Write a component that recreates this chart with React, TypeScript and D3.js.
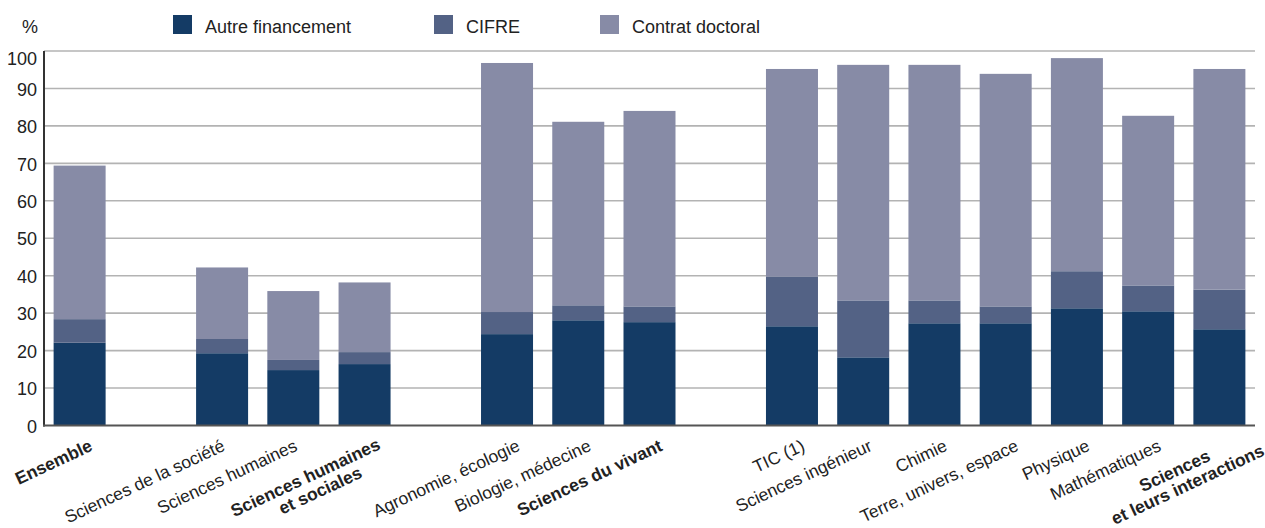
import React from "react";
import * as d3 from "d3";

// ---- data ----
const slots = [
  "Ensemble", "gap1",
  "Sciences de la société", "Sciences humaines", "Sciences humaines et sociales", "gap2",
  "Agronomie, écologie", "Biologie, médecine", "Sciences du vivant", "gap3",
  "TIC (1)", "Sciences ingénieur", "Chimie", "Terre, univers, espace", "Physique", "Mathématiques", "Sciences et leurs interactions",
];
const categories = [
  "Ensemble", "Sciences de la société", "Sciences humaines", "Sciences humaines et sociales",
  "Agronomie, écologie", "Biologie, médecine", "Sciences du vivant",
  "TIC (1)", "Sciences ingénieur", "Chimie", "Terre, univers, espace", "Physique", "Mathématiques", "Sciences et leurs interactions",
];
const autreFinancement = [22.1, 19.3, 14.8, 16.4, 24.4, 28.1, 27.6, 26.5, 18.2, 27.3, 27.3, 31.3, 30.5, 25.7];
const cifre = [6.3, 3.8, 2.7, 3.2, 5.9, 4.0, 4.2, 13.3, 15.2, 6.1, 4.5, 9.9, 6.9, 10.6];
const contratDoctoral = [41.0, 19.1, 18.4, 18.6, 66.5, 49.0, 52.2, 55.4, 62.9, 62.9, 62.1, 56.9, 45.3, 58.9];
const seriesNames = ["Autre financement", "CIFRE", "Contrat doctoral"];
const seriesColors = ["#143b65", "#536285", "#878ba6"];
const yTicks = [0, 10, 20, 30, 40, 50, 60, 70, 80, 90, 100];
const boldLabels = ["Ensemble", "Sciences humaines et sociales", "Sciences du vivant", "Sciences et leurs interactions"];
const labelLines: Record<string, string[]> = {
  "Sciences humaines et sociales": ["Sciences humaines", "et sociales"],
  "Sciences et leurs interactions": ["Sciences", "et leurs interactions"],
};
const labelMid: Record<string, number[]> = {
  "Sciences humaines et sociales": [78, 70],
  "Sciences et leurs interactions": [62, 56],
};
const labelShift: Record<string, number> = {
  "Sciences de la société": -10,
  "Sciences humaines": -9,
  "Sciences ingénieur": -4,
};

const W = 1265, H = 528;
const M = { left: 44, right: 1255, top: 51, bottom: 425.5 };
const FONT = "'Liberation Sans', Arial, sans-serif";

export default function App() {
  const x = d3.scaleBand<string>().domain(slots).range([M.left, M.right]).paddingInner(0.27).paddingOuter(0.135);
  const y = d3.scaleLinear().domain([0, 100]).range([M.bottom, M.top]);

  const rows = categories.map((c, i) => ({
    cat: c,
    [seriesNames[0]]: autreFinancement[i],
    [seriesNames[1]]: cifre[i],
    [seriesNames[2]]: contratDoctoral[i],
  }));
  const stacked = d3.stack<any>().keys(seriesNames)(rows);

  const legendX = [173, 434, 600];
  const angle = -25;

  return (
    <svg width={W} height={H} style={{ position: "absolute", left: 0, top: 0, background: "#fff" }} fontFamily={FONT}>
      {/* grid */}
      {yTicks.filter((t) => t > 0).map((t) => (
        <line key={t} x1={M.left} x2={M.right} y1={y(t)} y2={y(t)} stroke="#b3b3b3" strokeWidth={1.6} />
      ))}
      {/* bars */}
      {stacked.map((s, si) => (
        <g key={s.key} fill={seriesColors[si]}>
          {s.map((d, i) => (
            <rect key={i} x={x(categories[i])} width={x.bandwidth()} y={y(d[1])} height={y(d[0]) - y(d[1])} />
          ))}
        </g>
      ))}
      {/* axes */}
      <line x1={M.left} x2={M.left} y1={M.top} y2={M.bottom + 1} stroke="#333" strokeWidth={2} />
      <line x1={M.left - 1} x2={M.right} y1={M.bottom} y2={M.bottom} stroke="#555" strokeWidth={2} />
      {yTicks.map((t) => (
        <text key={t} x={37} y={y(t)} dy={t === 100 ? "0.75em" : "0.4em"} textAnchor="end" fontSize={18} fill="#222">{t}</text>
      ))}
      <text x={22} y={33} fontSize={18} fill="#222">%</text>
      {/* legend */}
      {seriesNames.map((n, i) => (
        <g key={n}>
          <rect x={legendX[i]} y={15} width={19} height={19} fill={seriesColors[i]} />
          <text x={legendX[i] + 32} y={33} fontSize={18} fill="#222">{n}</text>
        </g>
      ))}
      {/* x labels */}
      {categories.map((c) => {
        const cx = (x(c) as number) + x.bandwidth() / 2;
        const bold = boldLabels.includes(c);
        const lines = labelLines[c];
        const px = cx + 14 + (labelShift[c] || 0), py = 450;
        if (lines) {
          const mid = labelMid[c];
          return (
            <text key={c} transform={`translate(${px},${py}) rotate(${angle})`} textAnchor="middle" fontSize={17.5} fontWeight="bold" fill="#222">
              {lines.map((l, li) => (
                <tspan key={li} x={-mid[li]} y={li * 18}>{l}</tspan>
              ))}
            </text>
          );
        }
        return (
          <text key={c} transform={`translate(${px},${py}) rotate(${angle})`} textAnchor="end" fontSize={17.5} fontWeight={bold ? "bold" : "normal"} fill="#222">{c}</text>
        );
      })}
    </svg>
  );
}
